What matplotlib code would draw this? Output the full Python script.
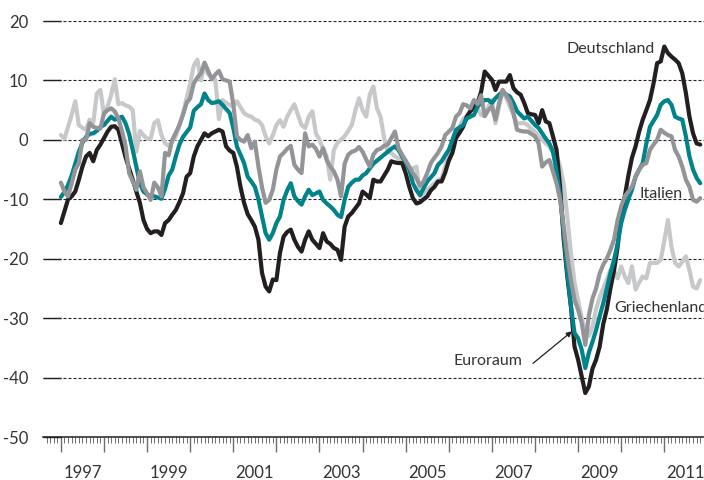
import numpy as np
import matplotlib
matplotlib.use("Agg")
import matplotlib.pyplot as plt
from matplotlib.ticker import FixedLocator, NullFormatter, FixedFormatter

plt.rcParams['font.family'] = ['Lato', 'DejaVu Sans']

# ---------------- data (monthly, Jan 1997 - Nov 2011) ----------------
start_year = 1997

deutschland = [
    -14, -12, -10, -9.5, -8.7, -6.7, -4.5, -2.8, -2.2, -3.6, -1.7, -0.8,
    0.3, 1.4, 2.2, 2.3, 1.7, -0.6, -2.9, -4.8, -6.7, -8.7, -10.6, -13.5,
    -15, -15.7, -15.4, -15.4, -16, -14, -13.5, -12.6, -11.8, -10.5, -9, -6.2,
    -5.6, -2.8, -1.1, 0, 1.1, 0.6, 1.1, 1.4, 1.7, 1.4, -1.1, -1.8,
    -2.2, -4.5, -7.9, -10.6, -12.5, -13.5, -14.6, -16.8, -22.4, -24.7, -25.5, -23.5,
    -23.6, -19, -16.3, -15.5, -15.1, -16.8, -18, -18.8, -16.8, -15.4, -16.8, -17.5,
    -18.2, -15.7, -17.1, -17.5, -18.2, -18.5, -20.2, -14.6, -12.9, -12.3, -11.5, -10.7,
    -8.7, -9.2, -9.8, -6.7, -7, -7, -6, -5, -3.6, -3.8, -3.9, -3.9,
    -5.6, -7.9, -9.8, -10.7, -10.5, -10, -9.5, -8.5, -7.9, -7, -7, -5.5,
    -3.5, -2.2, 0.3, 1.2, 2.2, 3.9, 4.8, 5.5, 6.2, 8.1, 11.5, 10.8,
    10.1, 8.4, 9.8, 9.8, 9.8, 10.9, 8.7, 8, 7.6, 6.2, 4.5, 4.3,
    4.2, 2.8, 5, 3.1, 2.8, 0.6, -1.7, -8, -16.8, -23, -28, -34.8,
    -37, -39.8, -42.6, -41.5, -38.5, -37, -34.8, -31, -28.5, -25, -22, -18,
    -12.3, -9.5, -6, -3, -1.1, 1.4, 3.4, 5, 6.7, 9.5, 12.9, 13.2,
    15.7, 14.6, 14, 13.5, 12.9, 11.2, 7.9, 3.9, 1.1, -0.6, -0.8,
]

euroraum = [
    -9.6, -8.8, -7.6, -6, -4, -2, -0.5, 0.5, 1, 1.1, 1.5, 2.2,
    2.5, 3.2, 3.9, 3.4, 3.6, 3.9, 2.8, 1, -1.7, -4.5, -7.3, -8.7,
    -9.2, -9.5, -9.5, -9.7, -9.9, -8.2, -6, -5, -2.8, -0.8, 0.5, 1.3,
    2.1, 4.9, 5.5, 6, 7.8, 6.7, 6.2, 6.3, 6.5, 5.9, 5.2, 4.5,
    2, -1.1, -2.5, -3.9, -6.2, -7, -7.9, -10, -12.9, -15.7, -16.8, -15.7,
    -14, -12.9, -10.1, -8.5, -7.3, -9.5, -10.3, -10.9, -9.5, -8.4, -9.3, -9,
    -8.7, -10.1, -10.7, -11.2, -11.8, -12.6, -13, -10.1, -7.9, -7.2, -6.7, -6.7,
    -6, -5.6, -4.8, -4, -3.5, -3, -2.5, -2, -1.5, -1.1, -1.7, -2.8,
    -3.8, -5, -7.3, -8.5, -9.3, -8.1, -7, -6.3, -5.6, -4.2, -3.6, -2.6,
    -1.7, 0, 1.7, 2.1, 2.5, 3.6, 3.9, 4.2, 5.6, 6.2, 6.7, 6.7,
    6.2, 7, 7.6, 8.1, 7.6, 7.3, 6.2, 4.8, 4.2, 3.6, 3.9, 3.2,
    2.5, 2, 1.1, 0.2, -0.6, -2, -5.3, -9.5, -15.7, -22.4, -28, -32.5,
    -33.4, -35.3, -38.4, -35.8, -34, -32, -29.7, -27.5, -25, -22.4, -20.2, -17.5,
    -14, -11.8, -10, -8.4, -6.2, -5, -3.9, -0.6, 2.2, 3.2, 4.2, 5.9,
    6.5, 6.7, 5.9, 3.9, 3.6, 3.4, 0.6, -2.8, -5, -6.4, -7.3,
]

italien = [
    -7.2, -8.7, -9.5, -7.3, -5, -3.9, 0, 0, 2.8, 2.2, 2, 1.9,
    4.5, 5, 5.3, 4.8, 3.6, 1.5, -1, -5.6, -7, -8.4, -5.3, -8,
    -9, -10.1, -7.2, -8, -9.5, -2.2, -2.6, 0, 1.2, 2.5, 4.2, 6.2,
    7, 9.5, 10.5, 11.2, 13, 11.6, 10.2, 11, 11.6, 10.2, 10, 9.8,
    6, 0.6, 0, -0.3, 0.8, -1.4, -0.3, -4.5, -8, -10.6, -10.1, -8.4,
    -5, -2.8, -2.2, -1.5, -1, -4.2, -5, -5.6, 1.1, -1.1, -0.8, -1.5,
    -2.8, -1.4, -3.4, -4.5, -5.3, -6.7, -9.5, -4, -2.5, -2, -1.8, -1.2,
    -2, -3.3, -4.5, -2.5, -1.7, -1.5, -1, -0.8, 0.3, 1.4, -1.4, -2.5,
    -3.5, -4.5, -5.6, -6.5, -7.7, -7, -5.6, -3.9, -3, -2.2, -1.1, 0.8,
    1.4, 2, 3.9, 4.5, 6, 5.8, 5.3, 6.7, 6, 7.5, 4, 5,
    5.6, 3.4, 6.2, 8.4, 7.5, 6.5, 4.5, 1.7, 1.5, 1.4, 1.4, 1,
    0.6, -0.6, -4.5, -3.8, -3.4, -5.3, -7.3, -10.1, -14.6, -19.6, -23.6, -26.9,
    -28.6, -30.8, -34.5, -29.5, -26.7, -25, -22.5, -21, -20, -18.5, -16.8, -13.5,
    -11.2, -9.5, -8.7, -7.9, -6.2, -5, -4.2, -3.9, -1.7, -0.8, 0, 1.7,
    1.2, 0.8, 0.6, -1.7, -2.8, -4.5, -6.7, -7.9, -10.1, -10.4, -9.8,
]

griechenland = [
    0.8, 0.2, 2.2, 4.2, 6.5, 2.5, 2, 1.7, 3.4, 2.8, 7.8, 8.4,
    4.2, 5.6, 7.6, 10.2, 6, 6.2, 5.8, 5.6, 5, -2, 1.5, 0.8,
    0.2, 0.2, 2.8, 3.3, 0.8, -0.6, -1, -0.3, 0.6, 2.5, 4.5, 7,
    9.5, 12.5, 13.5, 10, 12.6, 11, 10.6, 10.1, 3.5, 6.7, 6.2, 5.9,
    5.6, 6.5, 5.5, 4.5, 4.1, 3.9, 3.4, 3.2, 2.5, 0.6, -0.6, 0.8,
    2.5, 3.3, 2.2, 3.9, 5, 6, 4.2, 2.5, 2, 3.9, 4.8, 1.1,
    0, -1.5, -2.8, -6.7, -1.7, -0.5, 0, 0.6, 1.5, 2.5, 5, 7,
    5, 3.9, 7.6, 9, 5.3, 3.9, 0.3, -2, -2.2, -2.8, -3.1, -3.5,
    -4.2, -5, -4.8, -4.5, -9.5, -9, -8.4, -7.9, -7.3, -6.8, -6.5, -4.5,
    -2.2, -0.8, 0.6, 2.2, 3.5, 4, 5, 5.6, 5.3, 4.2, 4, 5.5,
    6.7, 2.8, 5.6, 8.4, 7, 5.6, 4.2, 2.8, 2.8, 2.8, 2.5, 1.8,
    1.4, 0.6, 0, -0.6, -1.1, -2.2, -2.6, -4.5, -7.5, -13, -19, -24,
    -27, -30, -32, -33, -31.4, -28.5, -26.5, -25, -23.5, -21.9, -22, -23.3,
    -21.3, -23, -24.1, -21.3, -25.2, -24, -23, -23.3, -20.7, -20.7, -20.7, -20.2,
    -17, -13.5, -18, -20.7, -21.3, -20.5, -19.6, -21.9, -24.7, -25, -23.6,
]

y_ticks = [-50, -40, -30, -20, -10, 0, 10, 20]
year_ticks = list(range(1997, 2012))
year_labels = ["1997", "1999", "2001", "2003", "2005", "2007", "2009", "2011"]

# ---------------- styling ----------------
C_DE = '#231f20'
C_EU = '#00838a'
C_IT = '#929497'
C_GR = '#c7c8ca'
C_TXT = '#333333'

W, H = 704, 480
fig = plt.figure(figsize=(W / 100, H / 100), dpi=100)
ax = fig.add_axes([43 / W, 43 / H, 661 / W, 416 / H])

x = start_year + np.arange(len(deutschland)) / 12.0

kw = dict(lw=3.0, solid_joinstyle='round', solid_capstyle='round')
ax.plot(x, griechenland, color=C_GR, zorder=3, **kw)
ax.plot(x, deutschland, color=C_DE, zorder=4, **kw)
ax.plot(x, euroraum, color=C_EU, zorder=5, **kw)
ax.plot(x, italien, color=C_IT, zorder=6, **kw)

ax.set_xlim(1996.585, 2011.921)
ax.set_ylim(-50, 20)

for s in ['top', 'right', 'left']:
    ax.spines[s].set_visible(False)
ax.spines['bottom'].set_color('#231f20')
ax.spines['bottom'].set_linewidth(1.1)

# y axis
ax.yaxis.set_major_locator(FixedLocator(y_ticks))
ax.set_yticklabels([str(v) for v in y_ticks])
ax.tick_params(axis='y', direction='in', length=12.9, width=1.0, color='#231f20',
               pad=10.8, labelsize=12, labelcolor=C_TXT)
ax.yaxis.grid(True, linestyle=(0, (2.7, 1.8)), linewidth=0.8, color='#231f20', zorder=1)
ax.set_axisbelow(True)

# x axis
ax.xaxis.set_major_locator(FixedLocator(year_ticks))
ax.xaxis.set_major_formatter(NullFormatter())
months = [y + m / 12.0 for y in range(1996, 2012) for m in range(1, 12)]
ax.xaxis.set_minor_locator(FixedLocator(months))
ax.tick_params(axis='x', which='major', direction='out', length=10.8, width=1.0, color='#6d6e71')
ax.tick_params(axis='x', which='minor', direction='out', length=4.3, width=0.7, color='#6d6e71')
for lab in year_labels:
    ax.annotate(lab, xy=(int(lab) + 0.5, 0), xycoords=('data', 'axes fraction'),
                xytext=(0, -20.5), textcoords='offset points', ha='center', va='top',
                fontsize=12, color=C_TXT, annotation_clip=False)

# series labels
lab_kw = dict(fontsize=11.5, color=C_TXT, va='baseline', zorder=10)
ax.text(2008.742, 14.59, "Deutschland", ha='left', **lab_kw)
ax.text(2010.436, -9.76, "Italien", ha='left', **lab_kw)
ax.text(2009.833, -28.89, "Griechenland", ha='left', clip_on=False, **lab_kw)
ax.text(2007.698, -37.86, "Euroraum", ha='right', **lab_kw)
ax.annotate("", xy=(2008.858, -32.22), xytext=(2007.953, -37.61),
            arrowprops=dict(arrowstyle='-|>', lw=0.9, color='#231f20',
                            mutation_scale=8, shrinkA=0, shrinkB=0), zorder=10)

fig.savefig("out.png", dpi=100)
